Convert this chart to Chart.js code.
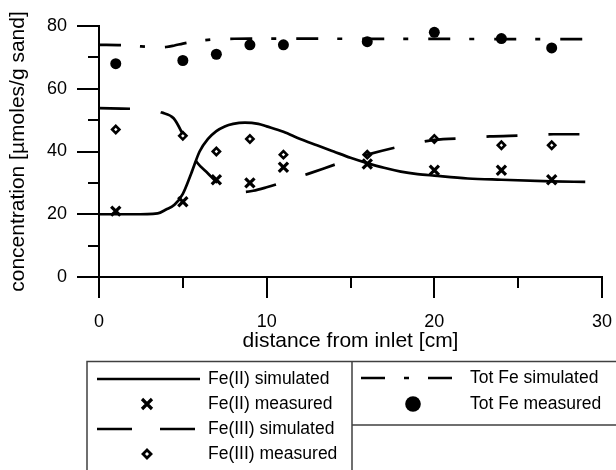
<!DOCTYPE html>
<html>
<head>
<meta charset="utf-8">
<script src="https://cdn.jsdelivr.net/npm/chart.js@4.4.1/dist/chart.umd.min.js"></script>
<style>
  body { margin: 0; background: #fff; }
  #wrap { width: 616px; height: 470px; }
</style>
</head>
<body>
<div id="wrap"><canvas id="chart" width="616" height="470"></canvas></div>
<script>
"use strict";

// measured points (distance in cm)
const measuredX = [1, 5, 7, 9, 11, 16, 20, 24, 27];
const fe2Measured = [21, 24, 31, 30, 35, 36, 34, 34, 31];
const fe3Measured = [47, 45, 40, 44, 39, 39, 44, 42, 42];
const totFeMeasured = [68, 69, 71, 74, 74, 75, 78, 76, 73];

// simulated curves
const fe2SimX = [0, 2, 3.5, 4, 4.5, 5, 5.5, 6, 6.5, 7, 7.5, 8, 8.7, 9.5, 10, 11, 12, 13, 14, 15, 16, 17, 18, 19, 20, 22, 24, 27, 29];
const fe2SimY = [20, 20, 20.3, 21.5, 23, 26.5, 33, 40, 44, 46.5, 48, 48.8, 49.2, 48.8, 48, 46.3, 44, 42, 40, 38, 36.3, 34.8, 33.6, 32.8, 32.3, 31.4, 31, 30.5, 30.3];

const fe3SimX = [0, 2, 3, 3.75, 4.45, 4.9, 5.3, 5.85, 6.5, 7.2, 8, 8.6, 9.2, 10, 10.8, 12.6, 14.5, 16, 18.2, 20, 22, 23.3, 25.3, 27.1, 29];
const fe3SimY = [53.8, 53.6, 53.3, 52.4, 50.6, 46.5, 41.5, 36.5, 33, 29.4, 27.6, 27.1, 27.5, 28.6, 29.9, 33.1, 36.6, 39, 41.9, 43.7, 44.3, 44.8, 45.1, 45.5, 45.5];

const totFeSimX = [0, 1.3, 2.5, 3.5, 4, 4.5, 5, 5.5, 6, 6.5, 7, 7.8, 9, 12, 16, 20, 25, 29];
const totFeSimY = [74, 73.9, 73.5, 73.2, 73.3, 73.8, 74.4, 74.9, 75.3, 75.6, 75.8, 75.9, 76, 76, 75.9, 75.9, 75.8, 75.8];

const seriesLabels = ['Fe(II) simulated', 'Fe(II) measured', 'Fe(III) simulated', 'Fe(III) measured', 'Tot Fe simulated', 'Tot Fe measured'];

const xTitle = 'distance from inlet [cm]';
const yTitle = 'concentration [\u00b5moles/g sand]';

function pts(xs, ys) {
    return xs.map((x, i) => ({ x: x, y: ys[i] }));
}

Chart.defaults.font.family = '"Liberation Sans", Arial, sans-serif';
Chart.defaults.color = '#000';

// minor ticks (unlabelled ones) are drawn shorter here
const minorTicks = {
    id: 'minorTicks',
    afterDraw(chart) {
        const ctx = chart.ctx;
        const xs = chart.scales.x, ys = chart.scales.y;
        ctx.save();
        ctx.strokeStyle = '#000';
        ctx.lineWidth = 2;
        ctx.beginPath();
        xs.ticks.forEach(t => {
            if (t.value % 10 !== 0) {
                const px = Math.round(xs.getPixelForValue(t.value));
                ctx.moveTo(px, xs.top);
                ctx.lineTo(px, xs.top + 11);
            }
        });
        ys.ticks.forEach(t => {
            if (t.value % 20 !== 0) {
                const py = Math.round(ys.getPixelForValue(t.value));
                ctx.moveTo(ys.right - 11, py);
                ctx.lineTo(ys.right, py);
            }
        });
        ctx.stroke();
        ctx.restore();
    }
};

// boxed legend under the plot
const boxLegend = {
    id: 'boxLegend',
    afterDraw(chart) {
        const ctx = chart.ctx;
        const ds = chart.data.datasets;
        ctx.save();

        // frame
        ctx.strokeStyle = '#404040';
        ctx.lineWidth = 1.5;
        ctx.beginPath();
        ctx.moveTo(87, 470); ctx.lineTo(87, 361.5); ctx.lineTo(616, 361.5);
        ctx.moveTo(352, 361.5); ctx.lineTo(352, 470);
        ctx.moveTo(352, 425); ctx.lineTo(616, 425);
        ctx.stroke();

        ctx.font = '17.5px "Liberation Sans", Arial, sans-serif';
        ctx.fillStyle = '#000';
        ctx.textBaseline = 'middle';
        ctx.textAlign = 'left';

        const line = (x1, x2, y, dash, w) => {
            ctx.save();
            ctx.strokeStyle = '#000';
            ctx.lineWidth = w;
            ctx.setLineDash(dash);
            ctx.beginPath();
            ctx.moveTo(x1, y); ctx.lineTo(x2, y);
            ctx.stroke();
            ctx.restore();
        };
        const cross = (x, y, r) => {
            ctx.save();
            ctx.strokeStyle = '#000';
            ctx.lineWidth = 3.2;
            ctx.beginPath();
            ctx.moveTo(x - r, y - r); ctx.lineTo(x + r, y + r);
            ctx.moveTo(x - r, y + r); ctx.lineTo(x + r, y - r);
            ctx.stroke();
            ctx.restore();
        };
        const diamond = (x, y, r) => {
            ctx.save();
            ctx.strokeStyle = '#000';
            ctx.fillStyle = '#fff';
            ctx.lineWidth = 2.8;
            ctx.beginPath();
            ctx.moveTo(x - r, y); ctx.lineTo(x, y - r); ctx.lineTo(x + r, y); ctx.lineTo(x, y + r);
            ctx.closePath();
            ctx.fill(); ctx.stroke();
            ctx.restore();
        };
        const dot = (x, y, r) => {
            ctx.save();
            ctx.fillStyle = '#000';
            ctx.beginPath();
            ctx.arc(x, y, r, 0, Math.PI * 2);
            ctx.fill();
            ctx.restore();
        };

        // left column
        const rowsL = [379, 404, 429, 454];
        line(97, 200, rowsL[0], [], 2.7);
        cross(147, rowsL[1], 5);
        line(97, 196, rowsL[2], [35, 28], 2.7);
        diamond(147, rowsL[3], 4);
        for (let i = 0; i < 4; i++) ctx.fillText(ds[i].label, 208, rowsL[i]);

        // right column
        const rowsR = [378, 404];
        line(361, 452, rowsR[0], [24, 19, 5, 19], 2.7);
        dot(413, rowsR[1], 7.8);
        ctx.fillText(ds[4].label, 470, rowsR[0]);
        ctx.fillText(ds[5].label, 470, rowsR[1]);

        ctx.restore();
    }
};

const ctx = document.getElementById('chart').getContext('2d');

new Chart(ctx, {
    type: 'line',
    data: {
        datasets: [
            {
                label: seriesLabels[0],
                data: pts(fe2SimX, fe2SimY),
                borderColor: '#000',
                borderWidth: 2.7,
                pointRadius: 0,
                cubicInterpolationMode: 'monotone'
            },
            {
                label: seriesLabels[1],
                data: pts(measuredX, fe2Measured),
                showLine: false,
                pointStyle: 'crossRot',
                pointRadius: 6.5,
                pointBorderWidth: 3.2,
                pointBorderColor: '#000',
                pointBackgroundColor: '#000'
            },
            {
                label: seriesLabels[2],
                data: pts(fe3SimX, fe3SimY),
                borderColor: '#000',
                borderWidth: 2.7,
                borderDash: [31, 31],
                pointRadius: 0,
                cubicInterpolationMode: 'monotone'
            },
            {
                label: seriesLabels[3],
                data: pts(measuredX, fe3Measured),
                showLine: false,
                pointStyle: 'rectRot',
                pointRadius: 3.6,
                pointBorderWidth: 2.6,
                pointBorderColor: '#000',
                pointBackgroundColor: '#fff'
            },
            {
                label: seriesLabels[4],
                data: pts(totFeSimX, totFeSimY),
                borderColor: '#000',
                borderWidth: 2.7,
                borderDash: [22, 19, 5, 20],
                pointRadius: 0,
                cubicInterpolationMode: 'monotone'
            },
            {
                label: seriesLabels[5],
                data: pts(measuredX, totFeMeasured),
                showLine: false,
                pointStyle: 'circle',
                pointRadius: 5.5,
                pointBorderWidth: 0,
                pointBackgroundColor: '#000'
            }
        ]
    },
    options: {
        responsive: false,
        animation: false,
        devicePixelRatio: 1,
        layout: { padding: { left: 0, top: 26, right: 14, bottom: 116 } },
        plugins: {
            legend: { display: false },
            tooltip: { enabled: false }
        },
        scales: {
            x: {
                type: 'linear',
                min: 0,
                max: 30,
                afterFit: s => {
                    s.height = 77;
                    s.paddingLeft = 0;
                    s.paddingRight = 0;
                },
                border: { display: true, color: '#000', width: 2 },
                grid: {
                    drawOnChartArea: false,
                    tickLength: 21,
                    lineWidth: 2,
                    color: '#000',
                    tickColor: c => (c.tick && c.tick.value % 10 !== 0) ? 'rgba(0,0,0,0)' : '#000'
                },
                ticks: {
                    stepSize: 5,
                    padding: 13,
                    maxRotation: 0,
                    autoSkip: false,
                    font: { size: 18 },
                    callback: v => (v % 10 === 0 ? String(v) : '')
                },
                title: {
                    display: true,
                    text: xTitle,
                    font: { size: 21 },
                    padding: 0
                }
            },
            y: {
                type: 'linear',
                min: 0,
                max: 80,
                afterFit: s => { s.width = 99; },
                border: { display: true, color: '#000', width: 2 },
                grid: {
                    drawOnChartArea: false,
                    tickLength: 22,
                    lineWidth: 2,
                    color: '#000',
                    tickColor: c => (c.tick && c.tick.value % 20 !== 0) ? 'rgba(0,0,0,0)' : '#000'
                },
                ticks: {
                    stepSize: 10,
                    padding: 10,
                    autoSkip: false,
                    font: { size: 18 },
                    callback: v => (v % 20 === 0 ? String(v) : '')
                },
                title: {
                    display: true,
                    text: yTitle,
                    font: { size: 21 },
                    padding: { top: 6, bottom: 0 }
                }
            }
        }
    },
    plugins: [minorTicks, boxLegend]
});
</script>
</body>
</html>
